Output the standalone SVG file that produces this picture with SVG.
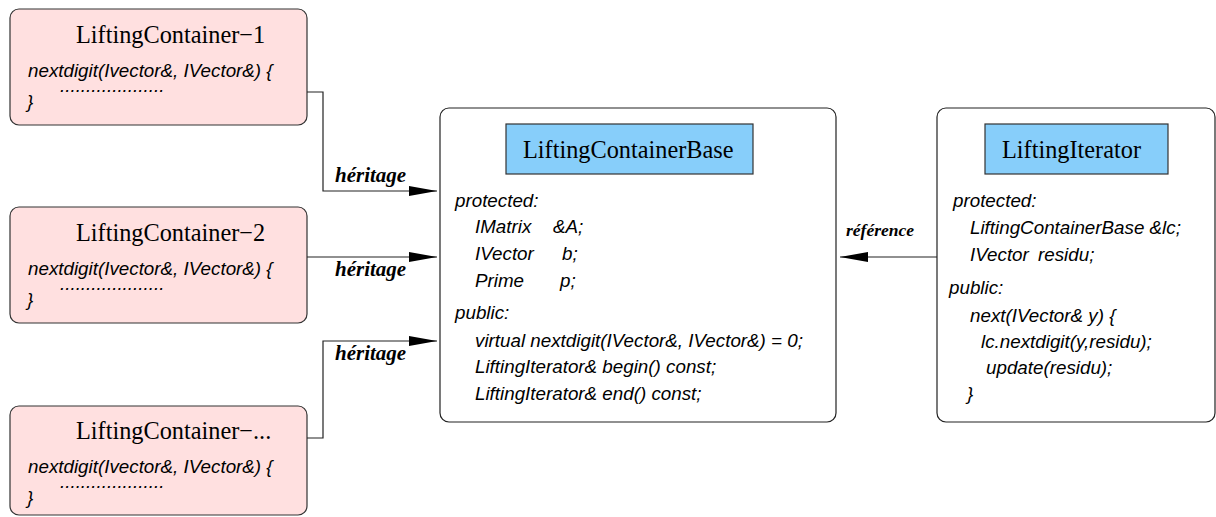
<svg xmlns="http://www.w3.org/2000/svg" width="1216" height="517" viewBox="0 0 1216 517">
<style>
.box{fill:#ffffff;stroke:#222;stroke-width:1.2}
.pink{fill:#ffe0e0;stroke:#333;stroke-width:1.2}
.blue{fill:#87cefa;stroke:#333;stroke-width:1.2}
.title{font-family:"Liberation Serif","Times New Roman",serif;font-size:24.3px;fill:#000}
.code{font-family:"Liberation Sans",Arial,sans-serif;font-style:italic;font-size:18.8px;fill:#000}
.lbl{font-family:"Liberation Serif","Times New Roman",serif;font-style:italic;font-weight:bold;font-size:21px;fill:#000}
.lbl2{font-family:"Liberation Serif","Times New Roman",serif;font-style:italic;font-weight:bold;font-size:17.5px;fill:#000}
.conn{fill:none;stroke:#222;stroke-width:1.2}
</style>
<defs>
<marker id="arr" markerUnits="userSpaceOnUse" markerWidth="28" markerHeight="10" refX="28" refY="5" orient="auto">
<path d="M0,0 L28,5 L0,10 z" fill="#000"/>
</marker>
</defs>
<rect width="1216" height="517" fill="#ffffff"/>

<g id="lc1">
<rect class="pink" x="10" y="9" width="297" height="116" rx="9"/>
<text class="title" x="76" y="43">LiftingContainer−1</text>
<text class="code" x="28" y="77">nextdigit(Ivector&amp;, IVector&amp;) {</text>
<text class="code" x="60" y="92">....................</text>
<text class="code" x="27" y="108">}</text>
</g>

<g id="lc2">
<rect class="pink" x="10" y="207" width="297" height="116" rx="9"/>
<text class="title" x="76" y="241">LiftingContainer−2</text>
<text class="code" x="28" y="275">nextdigit(Ivector&amp;, IVector&amp;) {</text>
<text class="code" x="60" y="290">....................</text>
<text class="code" x="27" y="306">}</text>
</g>

<g id="lc3">
<rect class="pink" x="10" y="406" width="297" height="109" rx="9"/>
<text class="title" x="76" y="439">LiftingContainer−...</text>
<text class="code" x="28" y="473">nextdigit(Ivector&amp;, IVector&amp;) {</text>
<text class="code" x="60" y="488">....................</text>
<text class="code" x="27" y="504">}</text>
</g>

<g id="base">
<rect class="box" x="440" y="108" width="396" height="314" rx="9"/>
<rect class="blue" x="506" y="124" width="247" height="50"/>
<text class="title" x="523" y="158">LiftingContainerBase</text>
<text class="code" x="455" y="207">protected:</text>
<text class="code" x="475" y="233">IMatrix</text><text class="code" x="553" y="233">&amp;A;</text>
<text class="code" x="475" y="260">IVector</text><text class="code" x="562" y="260">b;</text>
<text class="code" x="475" y="287">Prime</text><text class="code" x="560" y="287">p;</text>
<text class="code" x="455" y="319">public:</text>
<text class="code" x="475" y="347">virtual nextdigit(IVector&amp;, IVector&amp;) = 0;</text>
<text class="code" x="475" y="373">LiftingIterator&amp; begin() const;</text>
<text class="code" x="475" y="400">LiftingIterator&amp; end() const;</text>
</g>

<g id="iterator">
<rect class="box" x="937" y="108" width="278" height="314" rx="9"/>
<rect class="blue" x="985" y="124" width="183" height="50"/>
<text class="title" x="1002" y="158">LiftingIterator</text>
<text class="code" x="953" y="207">protected:</text>
<text class="code" x="970" y="234">LiftingContainerBase &amp;lc;</text>
<text class="code" x="970" y="261">IVector</text><text class="code" x="1038" y="261">residu;</text>
<text class="code" x="949" y="294">public:</text>
<text class="code" x="970" y="322">next(IVector&amp; y) {</text>
<text class="code" x="981" y="348">lc.nextdigit(y,residu);</text>
<text class="code" x="986" y="374">update(residu);</text>
<text class="code" x="967" y="400">}</text>
</g>

<g id="connectors">
<polyline class="conn" points="307,92 323,92 323,191 437,191" marker-end="url(#arr)"/>
<polyline class="conn" points="307,257 437,257" marker-end="url(#arr)"/>
<polyline class="conn" points="307,438 323,438 323,341 437,341" marker-end="url(#arr)"/>
<polyline class="conn" points="937,257 840,257" marker-end="url(#arr)"/>
<text class="lbl" x="335" y="182">héritage</text>
<text class="lbl" x="335" y="276">héritage</text>
<text class="lbl" x="335" y="360">héritage</text>
<text class="lbl2" x="846" y="236">référence</text>
</g>
</svg>
